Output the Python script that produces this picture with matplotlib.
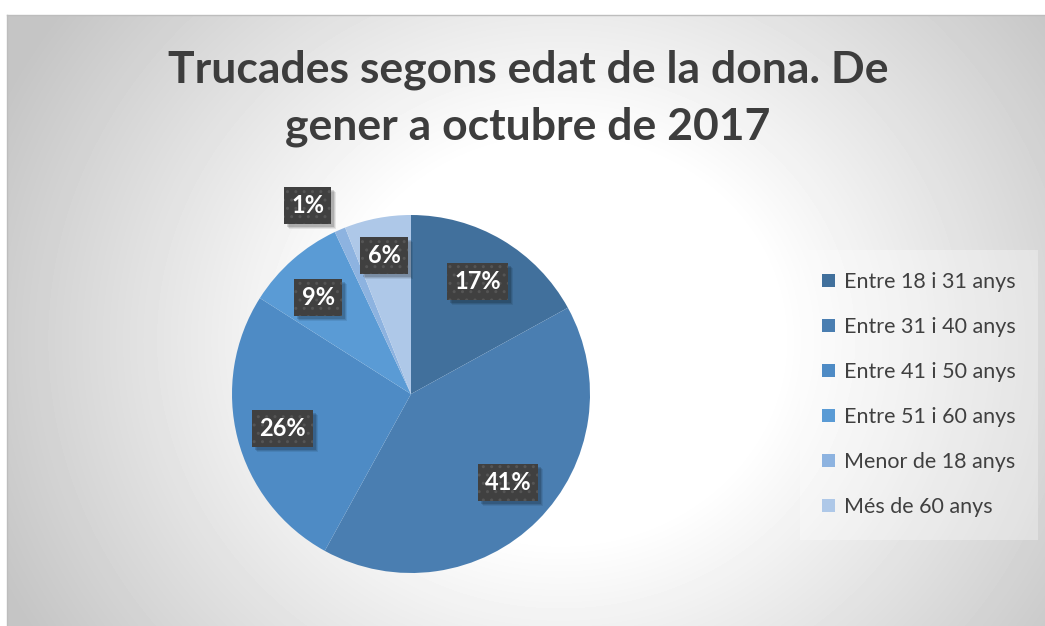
import matplotlib
matplotlib.use('Agg')
import matplotlib.pyplot as plt
import numpy as np
from matplotlib.patches import Patch, Rectangle
from matplotlib.lines import Line2D

categories = ['Entre 18 i 31 anys', 'Entre 31 i 40 anys', 'Entre 41 i 50 anys',
              'Entre 51 i 60 anys', 'Menor de 18 anys', 'Més de 60 anys']
values = [17, 41, 26, 9, 1, 6]
colors = ['#41709c', '#4a7eb1', '#4e8bc5', '#5a9bd5', '#8db3e0', '#aec8e8']
title_lines = ['Trucades segons edat de la dona. De', 'gener a octubre de 2017']

W, H = 1045, 626
FONT = 'Lato'
fig = plt.figure(figsize=(W / 100, H / 100), dpi=100)
fig.patch.set_facecolor('white')


def px(x0, y0, x1, y1):
    return [x0 / W, 1 - y1 / H, (x1 - x0) / W, (y1 - y0) / H]


# background radial gradient
bg = fig.add_axes(px(7, 15, W, H))
gw, gh = W - 7, H - 15
yy, xx = np.mgrid[0:gh, 0:gw]
cx, cy = 560 - 7, 340 - 15
d = np.hypot(xx - cx, (yy - cy) * 1.1)
g = 1 - 0.23 * np.clip((d - 220) / 400, 0, 1)
bg.imshow(g, cmap='gray', vmin=0, vmax=1, extent=[0, gw, gh, 0], aspect='auto',
          interpolation='bilinear')
bg.set_axis_off()
fig.add_artist(Line2D([7 / W, 1], [1 - 15 / H, 1 - 15 / H], color='#bdbdbd', lw=1))
fig.add_artist(Line2D([7 / W, 7 / W], [0, 1 - 15 / H], color='#bdbdbd', lw=1))

# title
fig.text(528 / W, 1 - 70 / H, title_lines[0], ha='center', va='center',
         fontsize=32, fontweight='bold', color='#3d3d3d', family=FONT)
fig.text(528 / W, 1 - 127 / H, title_lines[1], ha='center', va='center',
         fontsize=32, fontweight='bold', color='#3d3d3d', family=FONT)

# pie
cxp, cyp, R = 411, 394, 179
ax = fig.add_axes(px(cxp - R, cyp - R, cxp + R, cyp + R))
wedges, _ = ax.pie(values, colors=colors, startangle=90, counterclock=False,
                   radius=1, wedgeprops=dict(linewidth=0))
ax.set_xlim(-1, 1)
ax.set_ylim(-1, 1)
ax.set_aspect('equal')
ax.set_axis_off()

dists = [0.73, 0.735, 0.745, 0.75, 1.2, 0.79]
ang_adj = [0, 2.5, 0.5, 2.4, 5.4, 0.2]
labels = []
for w, v, dd, aa in zip(wedges, values, dists, ang_adj):
    ang = np.deg2rad((w.theta1 + w.theta2) / 2 + aa)
    x, y = dd * np.cos(ang), dd * np.sin(ang)
    t = ax.text(x, y, f'{v}%', ha='center', va='center', fontsize=17, fontweight='bold',
                color='white', family=FONT, zorder=5,
                bbox=dict(boxstyle='square,pad=0.3', fc='#404040', ec='#555555', lw=0,
                          hatch='..'))
    labels.append(t)

# shadows behind label boxes
fig.canvas.draw()
for t in labels:
    bb = t.get_bbox_patch().get_window_extent()
    for off, al in [(5, 0.08), (4, 0.10), (3, 0.14)]:
        fig.add_artist(Rectangle(((bb.x0 + off) / W, (bb.y0 - off) / H),
                                 bb.width / W, bb.height / H, fc='black', ec='none',
                                 alpha=al, zorder=4.5))
    t.set_zorder(10)
    t.remove()
    fig.add_artist(t)

# legend
handles = [Patch(facecolor=c, edgecolor='none') for c in colors]
leg = fig.legend(handles, categories, loc='upper left',
                 bbox_to_anchor=(806 / W, 1 - 256 / H), frameon=True,
                 prop=dict(family=FONT, size=15.5), labelcolor='#404040',
                 handlelength=0.6, handleheight=0.6, handletextpad=0.4,
                 labelspacing=1.16, borderpad=0.75, borderaxespad=0)
leg.get_frame().set_facecolor('white')
leg.get_frame().set_alpha(0.3)
leg.get_frame().set_edgecolor('none')
leg.get_frame().set_boxstyle('square')

fig.savefig('out.png', dpi=100, facecolor='white')
